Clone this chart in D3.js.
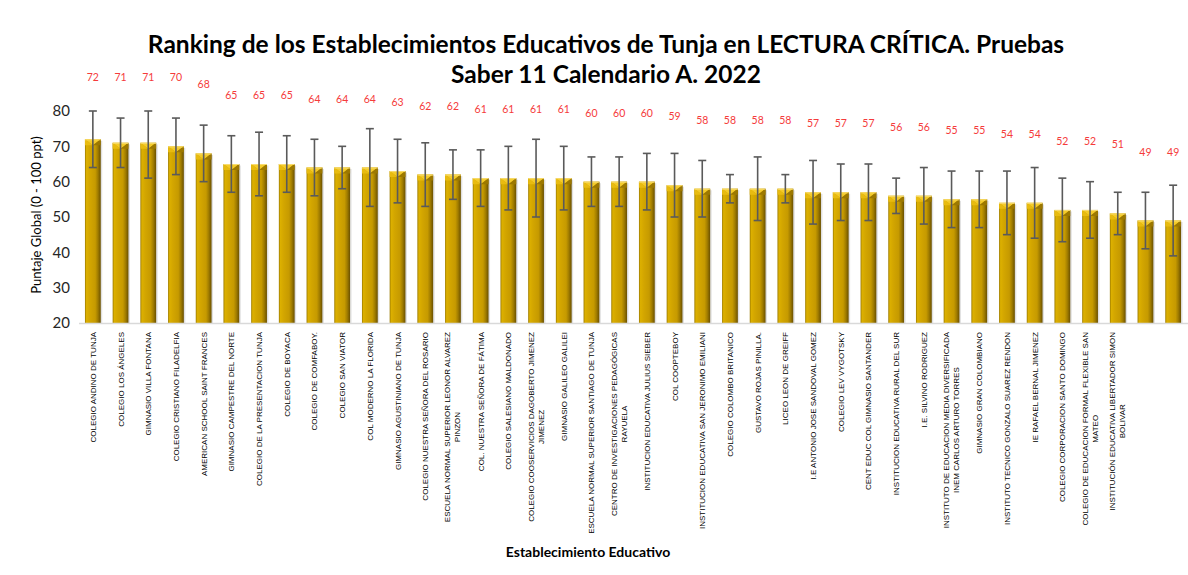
<!DOCTYPE html>
<html>
<head>
<meta charset="utf-8">
<script src="https://cdn.jsdelivr.net/npm/d3@7"></script>
<style>
  body { margin: 0; background: #fff; }
  svg { display: block; }
</style>
</head>
<body>
<svg width="1188" height="575"></svg>
<script>
// colegios (las dos ultimas barras no tienen etiqueta en el original)
const schools = [
  'COLEGIO ANDINO DE TUNJA',
  'COLEGIO LOS ÁNGELES',
  'GIMNASIO VILLA FONTANA',
  'COLEGIO CRISTIANO FILADELFIA',
  'AMERICAN SCHOOL SAINT FRANCES',
  'GIMNASIO CAMPESTRE DEL NORTE',
  'COLEGIO DE LA PRESENTACION TUNJA',
  'COLEGIO DE BOYACA',
  'COLEGIO DE COMFABOY.',
  'COLEGIO SAN VIATOR',
  'COL MODERNO LA FLORIDA',
  'GIMNASIO AGUSTINIANO DE TUNJA',
  'COLEGIO NUESTRA SEÑORA DEL ROSARIO',
  'ESCUELA NORMAL SUPERIOR LEONOR ALVAREZ\nPINZON',
  'COL. NUESTRA SEÑORA DE FÁTIMA',
  'COLEGIO SALESIANO MALDONADO',
  'COLEGIO COOSERVICIOS DAGOBERTO JIMENEZ\nJIMENEZ',
  'GIMNASIO GALILEO GALILEI',
  'ESCUELA NORMAL SUPERIOR SANTIAGO DE TUNJA',
  'CENTRO DE INVESTIGACIONES PEDAGÓGICAS\nRAYUELA',
  'INSTITUCION EDUCATIVA JULIUS SIEBER',
  'COL COOPTEBOY',
  'INSTITUCION EDUCATIVA SAN JERONIMO EMILIANI',
  'COLEGIO COLOMBO BRITANICO',
  'GUSTAVO ROJAS PINILLA.',
  'LICEO LEON DE GREIFF',
  'I.E ANTONIO JOSE SANDOVAL GOMEZ',
  'COLEGIO LEV VYGOTSKY',
  'CENT EDUC COL GIMNASIO SANTANDER',
  'INSTITUCION EDUCATIVA RURAL DEL SUR',
  'I.E. SILVINO RODRIGUEZ',
  'INSTITUTO DE EDUCACION MEDIA DIVERSIFICADA\nINEM CARLOS ARTURO TORRES',
  'GIMNASIO GRAN COLOMBIANO',
  'INSTITUTO TECNICO GONZALO SUAREZ RENDON',
  'IE RAFAEL BERNAL JIMENEZ',
  'COLEGIO CORPORACION SANTO DOMINGO',
  'COLEGIO DE EDUCACION FORMAL FLEXIBLE SAN\nMATEO',
  'INSTITUCIÓN EDUCATIVA LIBERTADOR SIMON\nBOLIVAR',
  '',
  ''
];

const scores = [72, 71, 71, 70, 68, 65, 65, 65, 64, 64,
                64, 63, 62, 62, 61, 61, 61, 61, 60, 60,
                60, 59, 58, 58, 58, 58, 57, 57, 57, 56,
                56, 55, 55, 54, 54, 52, 52, 51, 49, 49];

const errHigh = [80, 78, 80, 78, 76, 73, 74, 73, 72, 70,
                 75, 72, 71, 69, 69, 70, 72, 70, 67, 67,
                 68, 68, 66, 62, 67, 62, 66, 65, 65, 61,
                 64, 63, 63, 63, 64, 61, 60, 57, 57, 59];

const errLow = [64, 64, 61, 62, 60, 57, 56, 57, 56, 58,
                53, 54, 53, 55, 53, 52, 50, 52, 53, 53,
                52, 50, 50, 54, 49, 54, 48, 49, 49, 51,
                48, 47, 47, 45, 44, 43, 44, 45, 41, 39];

const yTicks = [20, 30, 40, 50, 60, 70, 80];

const titleLines = [
  'Ranking de los Establecimientos Educativos de Tunja en LECTURA CRÍTICA. Pruebas',
  'Saber 11 Calendario A. 2022'
];

const data = scores.map((v, i) => ({i, name: schools[i], v, hi: errHigh[i], lo: errLow[i]}));

const svg = d3.select('svg');
const FONT = 'Lato, "Open Sans", sans-serif';

const x = d3.scaleBand()
  .domain(data.map(d => d.i))
  .range([79, 1187])
  .paddingInner(0.43)
  .paddingOuter(0.215);

const y = d3.scaleLinear()
  .domain([20, 80])
  .range([323, 111]);

// gradiente de las barras
const defs = svg.append('defs');
const grad = defs.append('linearGradient')
  .attr('id', 'gold')
  .attr('x1', '0%').attr('x2', '100%').attr('y1', '0%').attr('y2', '0%');
[[0, '#9a7900'], [0.1, '#dcb000'], [0.3, '#d3a600'], [0.65, '#c69a00'], [0.82, '#a07c00'], [1, '#6a5000']]
  .forEach(s => grad.append('stop').attr('offset', s[0]).attr('stop-color', s[1]));

// titulo
svg.append('g').selectAll('text')
  .data(titleLines)
  .join('text')
  .attr('x', 606)
  .attr('y', (d, i) => 53 + i * 30)
  .attr('text-anchor', 'middle')
  .attr('font-family', FONT)
  .attr('font-weight', 'bold')
  .attr('font-size', 24.5)
  .attr('fill', '#000')
  .text(d => d);

// eje y (solo etiquetas)
const yAxis = svg.append('g')
  .attr('transform', 'translate(79,0)')
  .call(d3.axisLeft(y).tickValues(yTicks).tickSize(0).tickPadding(9));
yAxis.select('.domain').remove();
yAxis.selectAll('text')
  .attr('font-family', FONT)
  .attr('font-size', 15)
  .attr('fill', '#262626');

svg.append('text')
  .attr('transform', 'translate(41,' + 215 + ') rotate(-90)')
  .attr('text-anchor', 'middle')
  .attr('font-family', FONT)
  .attr('font-size', 13)
  .attr('fill', '#000')
  .text('Puntaje Global (0 - 100 ppt)');

// barras
const bw = x.bandwidth();
const bars = svg.append('g').selectAll('g')
  .data(data)
  .join('g')
  .attr('transform', d => 'translate(' + x(d.i) + ',0)');

bars.append('rect')
  .attr('x', 1.5)
  .attr('y', d => y(d.v) + 1.5)
  .attr('width', bw)
  .attr('height', d => y(20) - y(d.v) - 1.5)
  .attr('fill', '#000')
  .attr('opacity', 0.12);

bars.append('rect')
  .attr('x', 0)
  .attr('y', d => y(d.v))
  .attr('width', bw)
  .attr('height', d => y(20) - y(d.v))
  .attr('fill', 'url(#gold)');

// bisel superior
bars.append('path')
  .attr('d', d => {
    const t = y(d.v);
    return 'M0,' + t + 'L' + bw + ',' + t + 'L' + (bw / 2) + ',' + (t + 6) + 'Z';
  })
  .attr('fill', '#f4cb2a');
bars.append('path')
  .attr('d', d => {
    const t = y(d.v);
    return 'M0,' + t + 'L' + (bw / 2) + ',' + (t + 6) + 'L0,' + (t + 6) + 'Z';
  })
  .attr('fill', '#e8bb10');
bars.append('path')
  .attr('d', d => {
    const t = y(d.v);
    return 'M' + bw + ',' + t + 'L' + (bw / 2) + ',' + (t + 6) + 'L' + bw + ',' + (t + 6) + 'Z';
  })
  .attr('fill', '#9c7800');
bars.append('line')
  .attr('x1', 0).attr('x2', bw)
  .attr('y1', d => y(d.v) + 0.5).attr('y2', d => y(d.v) + 0.5)
  .attr('stroke', '#f8dc70')
  .attr('stroke-width', 1);

// eje x
svg.append('line')
  .attr('x1', 79).attr('x2', 1188)
  .attr('y1', y(20) + 0.5).attr('y2', y(20) + 0.5)
  .attr('stroke', '#d9d9d9')
  .attr('stroke-width', 1.5);

// barras de error
const err = svg.append('g')
  .attr('stroke', '#5a5a5a')
  .attr('stroke-width', 1.6);
const cx = d => x(d.i) + bw / 2;
err.selectAll('.stem')
  .data(data)
  .join('line')
  .attr('class', 'stem')
  .attr('x1', cx).attr('x2', cx)
  .attr('y1', d => y(d.hi)).attr('y2', d => y(d.lo));
err.selectAll('.capHi')
  .data(data)
  .join('line')
  .attr('class', 'capHi')
  .attr('x1', d => cx(d) - 4).attr('x2', d => cx(d) + 4)
  .attr('y1', d => y(d.hi)).attr('y2', d => y(d.hi));
err.selectAll('.capLo')
  .data(data)
  .join('line')
  .attr('class', 'capLo')
  .attr('x1', d => cx(d) - 4).attr('x2', d => cx(d) + 4)
  .attr('y1', d => y(d.lo)).attr('y2', d => y(d.lo));

// etiquetas de valor (rojas)
svg.append('g').selectAll('text')
  .data(data)
  .join('text')
  .attr('x', cx)
  .attr('y', d => Math.max(81, y(d.v) - 65))
  .attr('text-anchor', 'middle')
  .attr('font-family', FONT)
  .attr('font-size', 10.5)
  .attr('fill', '#f53b3b')
  .text(d => d.v);

// etiquetas del eje x, rotadas y centradas
const lab = svg.append('g').selectAll('text')
  .data(data.filter(d => d.name))
  .join('text')
  .attr('transform', d => 'translate(' + cx(d) + ',332) rotate(-90)')
  .attr('text-anchor', 'middle')
  .attr('font-family', '"Liberation Sans", Arial, sans-serif')
  .attr('font-size', 8)
  .attr('fill', '#000');

lab.each(function(d) {
  const lines = d.name.split('\n');
  const t = d3.select(this);
  // ancho de la primera linea para centrar
  const probe = t.append('tspan').text(lines[0]);
  const w = probe.node().getComputedTextLength();
  probe.remove();
  lines.forEach((ln, k) => {
    t.append('tspan')
      .attr('x', -w / 2)
      .attr('dy', k === 0 ? (lines.length > 1 ? -2.5 : 3) : 10)
      .text(ln);
  });
});

svg.append('text')
  .attr('x', 588)
  .attr('y', 557)
  .attr('text-anchor', 'middle')
  .attr('font-family', FONT)
  .attr('font-weight', 'bold')
  .attr('font-size', 14)
  .attr('fill', '#000')
  .text('Establecimiento Educativo');
</script>
</body>
</html>
